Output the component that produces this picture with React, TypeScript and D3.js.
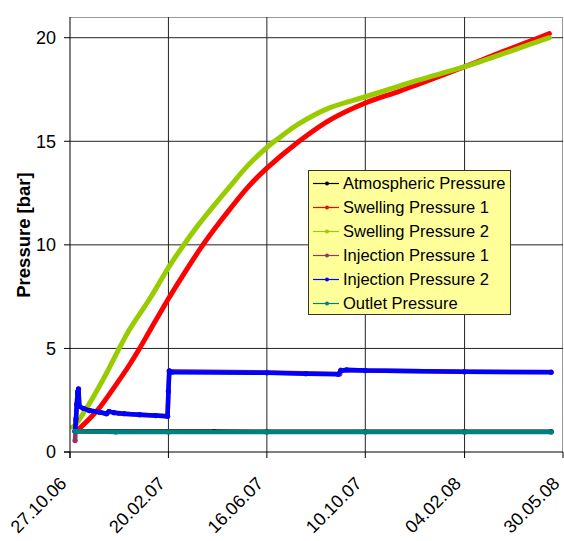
import React from 'react';
import * as d3 from 'd3';

// readings taken off the chart (date, bar)
const atmDates = ['02.11.06', '20.12.06', '20.02.07', '15.04.07', '16.06.07', '10.10.07', '04.02.08', '16.05.08'];
const atmValues = [1.0, 0.99, 0.99, 0.99, 0.98, 0.98, 0.98, 0.98];

const sw1Dates = ['05.11.06', '19.11.06', '01.12.06', '16.12.06', '05.01.07', '17.01.07', '29.01.07', '20.02.07', '11.03.07', '31.03.07', '15.04.07', '03.05.07', '25.05.07', '16.06.07', '24.07.07', '28.08.07', '10.10.07', '18.11.07', '11.12.07', '04.02.08', '15.03.08', '19.04.08', '14.05.08'];
const sw1Values = [1.05, 1.6, 2.15, 3.0, 4.2, 5.0, 5.85, 7.4, 8.65, 9.9, 10.75, 11.7, 12.8, 13.7, 15.0, 16.0, 16.85, 17.4, 17.75, 18.6, 19.25, 19.8, 20.2];

const sw2Dates = ['30.10.06', '02.11.06', '19.11.06', '09.12.06', '24.12.06', '05.01.07', '29.01.07', '20.02.07', '05.03.07', '28.03.07', '03.05.07', '25.05.07', '16.06.07', '30.06.07', '24.07.07', '28.08.07', '10.10.07', '18.11.07', '11.12.07', '04.02.08', '15.03.08', '19.04.08', '14.05.08'];
const sw2Values = [1.2, 1.3, 2.35, 3.8, 5.0, 5.9, 7.4, 8.9, 9.7, 11.0, 12.8, 13.85, 14.7, 15.15, 15.85, 16.6, 17.15, 17.65, 17.95, 18.6, 19.15, 19.65, 20.0];

const inj1Dates = ['02.11.06', '03.11.06', '04.11.06', '05.11.06', '06.11.06', '07.11.06', '19.11.06', '01.12.06', '09.12.06', '12.12.06', '24.12.06', '17.01.07', '19.02.07', '20.02.07', '21.02.07', '16.06.07', '10.09.07', '11.09.07', '10.10.07', '04.02.08', '16.05.08'];
const inj1Values = [0.55, 1.5, 2.3, 2.85, 3.0, 2.2, 2.0, 1.92, 1.85, 1.95, 1.86, 1.8, 1.73, 2.95, 3.9, 3.84, 3.77, 3.95, 3.93, 3.87, 3.86];

const inj2Dates = ['02.11.06', '03.11.06', '04.11.06', '05.11.06', '06.11.06', '07.11.06', '12.11.06', '19.11.06', '01.12.06', '09.12.06', '12.12.06', '18.12.06', '30.12.06', '17.01.07', '05.02.07', '19.02.07', '20.02.07', '21.02.07', '24.02.07', '16.06.07', '01.08.07', '08.09.07', '11.09.07', '18.09.07', '10.10.07', '04.02.08', '16.05.08'];
const inj2Values = [1.0, 1.6, 2.3, 2.9, 3.05, 2.2, 2.1, 2.0, 1.92, 1.85, 1.95, 1.9, 1.85, 1.8, 1.76, 1.73, 2.95, 3.92, 3.85, 3.82, 3.78, 3.75, 3.92, 3.97, 3.93, 3.87, 3.85];

const outDates = ['02.11.06', '20.12.06', '20.02.07', '16.06.07', '10.10.07', '04.02.08', '16.05.08'];
const outValues = [1.0, 0.97, 0.97, 0.97, 0.97, 0.97, 0.97];

const tickDates = ['27.10.06', '20.02.07', '16.06.07', '10.10.07', '04.02.08', '30.05.08'];
const yTicks = [0, 5, 10, 15, 20];

const parse = d3.timeParse('%d.%m.%y');

const series = [
  { name: 'Atmospheric Pressure', color: '#000000', dates: atmDates, values: atmValues, smooth: false },
  { name: 'Swelling Pressure 1', color: '#ff0000', dates: sw1Dates, values: sw1Values, smooth: true },
  { name: 'Swelling Pressure 2', color: '#99cc00', dates: sw2Dates, values: sw2Values, smooth: true },
  { name: 'Injection Pressure 1', color: '#993366', dates: inj1Dates, values: inj1Values, smooth: false },
  { name: 'Injection Pressure 2', color: '#0000ff', dates: inj2Dates, values: inj2Values, smooth: false },
  { name: 'Outlet Pressure', color: '#008080', dates: outDates, values: outValues, smooth: false },
];

const W = 564;
const H = 541;
const margin = { top: 17, right: 1, bottom: 89, left: 70 };
const innerW = W - margin.left - margin.right;
const innerH = H - margin.top - margin.bottom;

const App = () => {
  const x = d3.scaleTime()
    .domain([parse(tickDates[0])!, parse(tickDates[tickDates.length - 1])!])
    .range([0, innerW]);
  const y = d3.scaleLinear().domain([0, 21]).range([innerH, 0]);

  const font = 'Arial, "Liberation Sans", sans-serif';

  return (
    <svg width={W} height={H} style={{ position: 'absolute', left: 0, top: 0 }} fontFamily={font}>
      <g transform={`translate(${margin.left},${margin.top})`}>
        {/* frame */}
        <line x1={0} x2={innerW} y1={0.5} y2={0.5} stroke="#999" />
        <line x1={innerW - 0.5} x2={innerW - 0.5} y1={0} y2={innerH} stroke="#999" />

        {/* grid */}
        {yTicks.filter(t => t > 0).map(t => (
          <line key={'gy' + t} x1={0} x2={innerW} y1={y(t)} y2={y(t)} stroke="#222" />
        ))}
        {tickDates.slice(1, -1).map(d => (
          <line key={'gx' + d} x1={x(parse(d)!)} x2={x(parse(d)!)} y1={0} y2={innerH} stroke="#222" />
        ))}

        {/* series */}
        {series.map(s => {
          const pts = s.dates.map((d, i) => [x(parse(d)!), y(s.values[i])] as [number, number]);
          const line = d3.line().curve(s.smooth ? d3.curveCatmullRom.alpha(0.5) : d3.curveLinear);
          return (
            <g key={s.name}>
              <path d={line(pts) || ''} fill="none" stroke={s.color} strokeWidth={s.smooth ? 5 : 4.5} strokeLinejoin="round" strokeLinecap="round" />
              {!s.smooth && pts.map((p, i) => (
                <circle key={i} cx={p[0]} cy={p[1]} r={2.6} fill={s.color} />
              ))}
            </g>
          );
        })}

        {/* axes */}
        <line x1={0} x2={0} y1={0} y2={innerH + 6} stroke="#000" />
        <line x1={-6} x2={innerW} y1={innerH} y2={innerH} stroke="#000" />
        {yTicks.map(t => (
          <g key={'yt' + t}>
            <line x1={-6} x2={0} y1={y(t)} y2={y(t)} stroke="#000" />
            <text x={-14} y={y(t)} dy="0.36em" textAnchor="end" fontSize={18}>{t}</text>
          </g>
        ))}
        {tickDates.map(d => {
          const px = x(parse(d)!);
          return (
            <g key={'xt' + d}>
              <line x1={px} x2={px} y1={innerH} y2={innerH + 6} stroke="#000" />
              <text transform={`translate(${px - 7},${innerH + 28}) rotate(-45)`} dy="0.36em" textAnchor="end" fontSize={18}>{d}</text>
            </g>
          );
        })}
        <text transform={`translate(${23 - margin.left},${235 - margin.top}) rotate(-90)`} dy="0.36em" textAnchor="middle" fontSize={18.5} fontWeight="bold">Pressure [bar]</text>
      </g>

      {/* legend */}
      <g transform="translate(308,170)">
        <rect x={0.5} y={0.5} width={202} height={144} fill="#ffff99" stroke="#333" />
        {series.map((s, i) => (
          <g key={'lg' + s.name} transform={`translate(0,${13.5 + i * 24})`}>
            <line x1={5} x2={31} y1={0} y2={0} stroke={s.color} strokeWidth={1.2} />
            <circle cx={19} cy={0} r={2} fill={s.color} />
            <text x={35} y={0} dy="0.36em" fontSize={16.5}>{s.name}</text>
          </g>
        ))}
      </g>
    </svg>
  );
};

export default App;
